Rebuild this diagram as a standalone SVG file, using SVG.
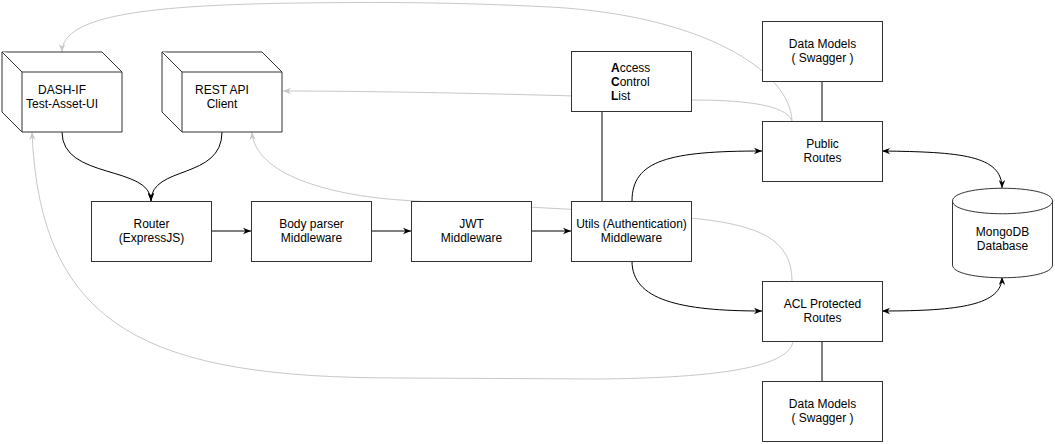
<svg xmlns="http://www.w3.org/2000/svg" width="1055" height="444" viewBox="0 0 1055 444">
<style>
.box{fill:#fff;stroke:#333;stroke-width:1}
.t{font-family:"Liberation Sans",Arial,sans-serif;font-size:12px;fill:#000;text-anchor:middle}
.tl{font-family:"Liberation Sans",Arial,sans-serif;font-size:12px;fill:#000}
.c{fill:none;stroke:#000;stroke-width:1}
.g{fill:none;stroke:#c8c8c8;stroke-width:1}
</style>
<defs>
<marker id="ab" viewBox="0 0 10 10" refX="10" refY="5" markerWidth="8" markerHeight="8" markerUnits="userSpaceOnUse" orient="auto-start-reverse">
<path d="M0,1 L10,5 L0,9 L3,5 Z" fill="#000"/>
</marker>
<marker id="ag" viewBox="0 0 10 10" refX="10" refY="5" markerWidth="8" markerHeight="8" markerUnits="userSpaceOnUse" orient="auto-start-reverse">
<path d="M0,1 L10,5 L0,9 L3,5 Z" fill="#c8c8c8"/>
</marker>
</defs>
<g id="connectors">
<path class="g" d="M792,121 C790,70 700,15 550,7 C450,2 380,2 300,3 C150,5 62,15 62,52" marker-end="url(#ag)"/>
<path class="g" d="M792,121 C786,104 740,100 692,100 C600,96 400,91 283,91" marker-end="url(#ag)"/>
<path class="g" d="M792,281 C792,240 760,226 700,219 C620,210 470,205 400,200 C330,195 255,175 252,132" marker-end="url(#ag)"/>
<path class="g" d="M793,341 C790,370 700,378 600,379 L400,378 C150,378 40,330 32,132" marker-end="url(#ag)"/>
<path class="c" d="M62,132 C62,180 151,165 151,201" marker-end="url(#ab)"/>
<path class="c" d="M222,132 C222,180 151,165 151,201" marker-end="url(#ab)"/>
<path class="c" d="M211,231 L251,231" marker-end="url(#ab)"/>
<path class="c" d="M371,231 L411,231" marker-end="url(#ab)"/>
<path class="c" d="M531,231 L571,231" marker-end="url(#ab)"/>
<path class="c" d="M602,111 L602,201"/>
<path class="c" d="M632,201 C632,160 670,151 762,151" marker-end="url(#ab)"/>
<path class="c" d="M632,261 C632,300 680,311 762,311" marker-end="url(#ab)"/>
<path class="c" d="M822,81 L822,121"/>
<path class="c" d="M822,341 L822,381"/>
<path class="c" d="M882,151 C960,152 1002,155 1002,188" marker-start="url(#ab)" marker-end="url(#ab)"/>
<path class="c" d="M882,311 C960,311 1002,305 1002,277" marker-start="url(#ab)" marker-end="url(#ab)"/>
</g>
<g id="dashif">
<path class="box" d="M2,52 L102,52 L122,72 L122,132 L22,132 L2,112 Z"/>
<path class="box" d="M2,52 L22,72 L122,72 M22,72 L22,132" fill="none"/>
<text class="t" x="62" y="94">DASH-IF</text>
<text class="t" x="62" y="108">Test-Asset-UI</text>
</g>
<g id="restapi">
<path class="box" d="M162,52 L262,52 L282,72 L282,132 L182,132 L162,112 Z"/>
<path class="box" d="M162,52 L182,72 L282,72 M182,72 L182,132" fill="none"/>
<text class="t" x="222" y="94">REST API</text>
<text class="t" x="222" y="108">Client</text>
</g>
<g id="router">
<rect class="box" x="91.5" y="201.5" width="120" height="60"/>
<text class="t" x="151.5" y="227.5">Router</text>
<text class="t" x="151.5" y="241.5">(ExpressJS)</text>
</g>
<g id="bodyparser">
<rect class="box" x="251.5" y="201.5" width="120" height="60"/>
<text class="t" x="311.5" y="227.5">Body parser</text>
<text class="t" x="311.5" y="241.5">Middleware</text>
</g>
<g id="jwt">
<rect class="box" x="411.5" y="201.5" width="120" height="60"/>
<text class="t" x="471.5" y="227.5">JWT</text>
<text class="t" x="471.5" y="241.5">Middleware</text>
</g>
<g id="utils">
<rect class="box" x="571.5" y="201.5" width="120" height="60"/>
<text class="t" x="631.5" y="227.5">Utils (Authentication)</text>
<text class="t" x="631.5" y="241.5">Middleware</text>
</g>
<g id="acl">
<rect class="box" x="571.5" y="51.5" width="120" height="60"/>
<text class="tl" x="611" y="71.5"><tspan font-weight="bold">A</tspan>ccess</text>
<text class="tl" x="611" y="85.5"><tspan font-weight="bold">C</tspan>ontrol</text>
<text class="tl" x="611" y="99.5"><tspan font-weight="bold">L</tspan>ist</text>
</g>
<g id="datamodels1">
<rect class="box" x="762.5" y="21.5" width="120" height="60"/>
<text class="t" x="822.5" y="47.5">Data Models</text>
<text class="t" x="822.5" y="61.5">( Swagger )</text>
</g>
<g id="publicroutes">
<rect class="box" x="762.5" y="121.5" width="120" height="60"/>
<text class="t" x="822.5" y="147.5">Public</text>
<text class="t" x="822.5" y="161.5">Routes</text>
</g>
<g id="aclroutes">
<rect class="box" x="762.5" y="281.5" width="120" height="60"/>
<text class="t" x="822.5" y="307.5">ACL Protected</text>
<text class="t" x="822.5" y="321.5">Routes</text>
</g>
<g id="datamodels2">
<rect class="box" x="762.5" y="381.5" width="120" height="60"/>
<text class="t" x="822.5" y="407.5">Data Models</text>
<text class="t" x="822.5" y="421.5">( Swagger )</text>
</g>
<g id="mongodb">
<path class="box" d="M952.5,201 C952.5,184 1052.5,184 1052.5,201 L1052.5,265 C1052.5,282 952.5,282 952.5,265 Z"/>
<path class="box" d="M952.5,201 C952.5,218 1052.5,218 1052.5,201" fill="none"/>
<text class="t" x="1002.5" y="235.5">MongoDB</text>
<text class="t" x="1002.5" y="249.5">Database</text>
</g>
</svg>
